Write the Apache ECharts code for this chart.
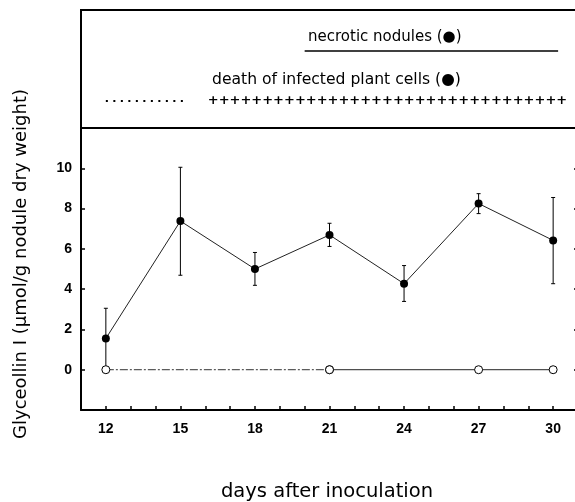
<!DOCTYPE html>
<html>
<head>
<meta charset="utf-8">
<script src="https://cdn.jsdelivr.net/npm/echarts@6/dist/echarts.min.js"></script>
<style>
html,body{margin:0;padding:0;background:#fff;overflow:hidden;}
#chart{width:575px;height:502px;}
</style>
</head>
<body>
<div id="chart"></div>
<script>
// ---- data ----
const days = [12, 15, 18, 21, 24, 27, 30];
const glyceollin = [1.55, 7.38, 5.0, 6.69, 4.27, 8.25, 6.42];
const errLow = [0.05, 4.69, 4.19, 6.12, 3.39, 7.75, 4.27];
const errHigh = [3.05, 10.05, 5.82, 7.27, 5.17, 8.74, 8.55];
const controlDaysDash = [12, 21];
const controlValsDash = [0, 0];
const controlDaysSolid = [21, 27, 30];
const controlValsSolid = [0, 0, 0];
const xTickLabels = [12, 15, 18, 21, 24, 27, 30];
const yTickLabels = [0, 2, 4, 6, 8, 10];
const necroticSpan = [20, 30.2];
const cellDeathDotted = [12, 15.3];
const cellDeathPlusStart = 16.1;
const necroticLabel = 'necrotic nodules (●)';
const cellDeathLabel = 'death of infected plant cells (●)';
const plusRow = '+++++++++++++++++++++++++++++++++';
const xTitle = 'days after inoculation';
const yTitle = 'Glyceollin I (μmol/g nodule dry weight)';

const FONT = 'Liberation Sans, Arial, sans-serif';
const WIDE = 'DejaVu Sans, sans-serif';
const chart = echarts.init(document.getElementById('chart'), null, {renderer: 'canvas'});

const xAxisCommon = {
  type: 'value', min: 11, max: 31, interval: 1
};

const option = {
  backgroundColor: '#fff',
  animation: false,
  grid: [
    {left: 81, width: 497, top: 10, height: 118, outerBoundsMode: 'none', containLabel: false, show: true, borderColor: '#000', borderWidth: 2, backgroundColor: 'transparent'},
    {left: 81, width: 497, top: 128, height: 282, outerBoundsMode: 'none', containLabel: false}
  ],
  xAxis: [
    Object.assign({}, xAxisCommon, {gridIndex: 0, show: false}),
    Object.assign({}, xAxisCommon, {
      gridIndex: 1,
      axisLine: {show: true, onZero: false, lineStyle: {color: '#000', width: 2}},
      axisTick: {show: true, inside: true, length: 4, lineStyle: {color: '#000', width: 1.5}},
      splitLine: {show: false},
      axisLabel: {
        color: '#000', fontFamily: FONT, fontSize: 14, fontWeight: 'bold', margin: 12,
        formatter: v => xTickLabels.indexOf(v) >= 0 ? String(v) : ''
      }
    })
  ],
  yAxis: [
    {gridIndex: 0, type: 'value', min: 0, max: 118, inverse: true, show: false},
    {
      gridIndex: 1, type: 'value', min: -2, max: 12, interval: 2, position: 'left',
      axisLine: {show: true, onZero: false, lineStyle: {color: '#000', width: 2}},
      axisTick: {show: true, inside: true, length: 4, lineStyle: {color: '#000', width: 1.5}},
      splitLine: {show: false},
      axisLabel: {
        color: '#000', fontFamily: FONT, fontSize: 14, fontWeight: 'bold', margin: 9,
        formatter: v => yTickLabels.indexOf(v) >= 0 ? String(v) : ''
      }
    },
    {
      gridIndex: 1, type: 'value', min: -2, max: 12, interval: 2, position: 'right',
      axisLine: {show: true, onZero: false, lineStyle: {color: '#000', width: 2}},
      axisTick: {show: true, inside: true, length: 4, lineStyle: {color: '#000', width: 1.5}},
      splitLine: {show: false},
      axisLabel: {show: false}
    }
  ],
  series: [
    // top panel: necrotic nodules line
    {
      type: 'line', xAxisIndex: 0, yAxisIndex: 0, symbol: 'none', silent: true,
      lineStyle: {color: '#000', width: 1.5},
      data: necroticSpan.map(d => [d, 41])
    },
    // top panel: dotted part of cell death row
    {
      type: 'line', xAxisIndex: 0, yAxisIndex: 0, symbol: 'none', silent: true,
      lineStyle: {color: '#000', width: 2, type: [2, 5.5]},
      data: cellDeathDotted.map(d => [d, 91])
    },
    // top panel: plus row
    {
      type: 'custom', xAxisIndex: 0, yAxisIndex: 0, silent: true,
      data: [[cellDeathPlusStart, 91]],
      renderItem: (params, api) => {
        const p = api.coord([api.value(0), api.value(1)]);
        return {
          type: 'text', x: p[0], y: p[1],
          style: {text: plusRow, fill: '#000', font: 'bold 13px DejaVu Sans', align: 'left', verticalAlign: 'middle'}
        };
      }
    },
    // error bars
    {
      type: 'custom', xAxisIndex: 1, yAxisIndex: 1, silent: true, z: 2,
      data: days.map((d, i) => [d, errLow[i], errHigh[i]]),
      renderItem: (params, api) => {
        const lo = api.coord([api.value(0), api.value(1)]);
        const hi = api.coord([api.value(0), api.value(2)]);
        const c = 2;
        const st = {stroke: '#000', lineWidth: 1};
        return {
          type: 'group',
          children: [
            {type: 'line', shape: {x1: lo[0], y1: lo[1], x2: hi[0], y2: hi[1]}, style: st},
            {type: 'line', shape: {x1: hi[0] - c, y1: hi[1], x2: hi[0] + c, y2: hi[1]}, style: st},
            {type: 'line', shape: {x1: lo[0] - c, y1: lo[1], x2: lo[0] + c, y2: lo[1]}, style: st}
          ]
        };
      }
    },
    // control (open circles), dash-dot segment
    {
      type: 'line', xAxisIndex: 1, yAxisIndex: 1, z: 3,
      symbol: 'circle', symbolSize: 8,
      itemStyle: {color: '#fff', borderColor: '#000', borderWidth: 1},
      lineStyle: {color: '#333', width: 1, type: [8, 2, 2, 2]},
      data: controlDaysDash.map((d, i) => [d, controlValsDash[i]])
    },
    // control (open circles), solid segment
    {
      type: 'line', xAxisIndex: 1, yAxisIndex: 1, z: 3,
      symbol: 'circle', symbolSize: 8,
      itemStyle: {color: '#fff', borderColor: '#000', borderWidth: 1},
      lineStyle: {color: '#222', width: 1},
      data: controlDaysSolid.map((d, i) => [d, controlValsSolid[i]])
    },
    // glyceollin in infected nodules (filled circles)
    {
      type: 'line', xAxisIndex: 1, yAxisIndex: 1, z: 4,
      symbol: 'circle', symbolSize: 8,
      itemStyle: {color: '#000'},
      lineStyle: {color: '#222', width: 1},
      data: days.map((d, i) => [d, glyceollin[i]])
    }
  ],
  graphic: [
    {type: 'text', x: 308, y: 37, style: {text: necroticLabel, fill: '#000', font: '15px ' + WIDE, align: 'left', verticalAlign: 'middle'}},
    {type: 'text', x: 212, y: 80, style: {text: cellDeathLabel, fill: '#000', font: '15.6px ' + WIDE, align: 'left', verticalAlign: 'middle'}},
    {type: 'text', x: 327, y: 492, style: {text: xTitle, fill: '#000', font: '19.5px ' + WIDE, align: 'center', verticalAlign: 'middle'}},
    {type: 'text', x: 21, y: 264, rotation: Math.PI / 2, style: {text: yTitle, fill: '#000', font: '18px ' + WIDE, align: 'center', verticalAlign: 'middle'}}
  ]
};
chart.setOption(option);
</script>
</body>
</html>
